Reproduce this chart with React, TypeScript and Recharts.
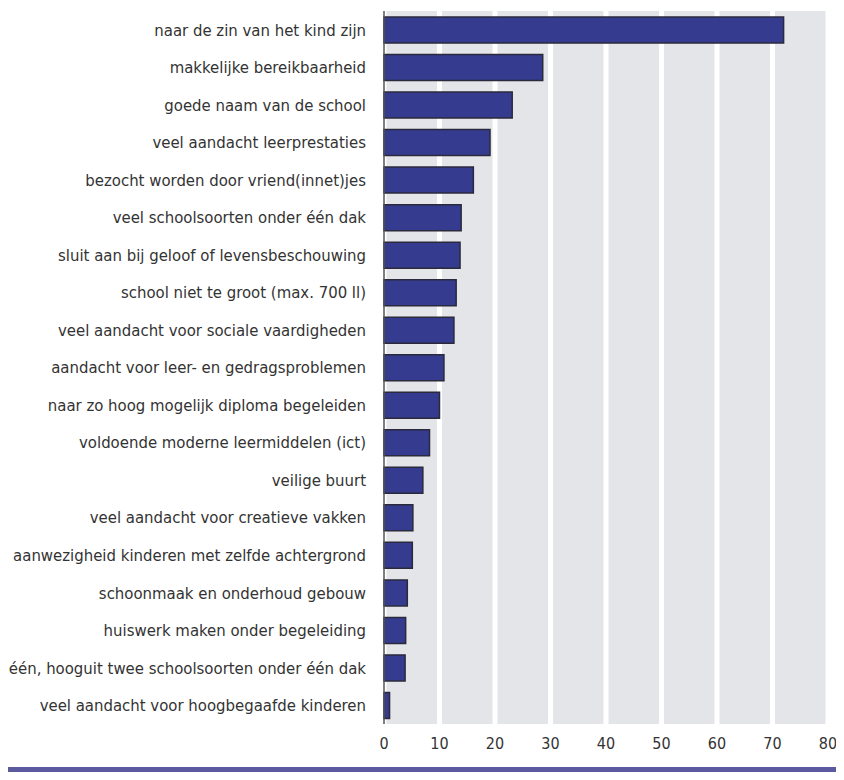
import React from "react";
import { BarChart, Bar, XAxis, YAxis, CartesianGrid } from "recharts";

const categories = [
  "naar de zin van het kind zijn",
  "makkelijke bereikbaarheid",
  "goede naam van de school",
  "veel aandacht leerprestaties",
  "bezocht worden door vriend(innet)jes",
  "veel schoolsoorten onder één dak",
  "sluit aan bij geloof of levensbeschouwing",
  "school niet te groot (max. 700 ll)",
  "veel aandacht voor sociale vaardigheden",
  "aandacht voor leer- en gedragsproblemen",
  "naar zo hoog mogelijk diploma begeleiden",
  "voldoende moderne leermiddelen (ict)",
  "veilige buurt",
  "veel aandacht voor creatieve vakken",
  "aanwezigheid kinderen met zelfde achtergrond",
  "schoonmaak en onderhoud gebouw",
  "huiswerk maken onder begeleiding",
  "één, hooguit twee schoolsoorten onder één dak",
  "veel aandacht voor hoogbegaafde kinderen",
];

const values = [72, 28.6, 23.1, 19.1, 16.1, 13.9, 13.7, 13.0, 12.6, 10.8, 10.0, 8.2, 7.0, 5.2, 5.1, 4.2, 3.9, 3.8, 1.0];

const xTicks = [0, 10, 20, 30, 40, 50, 60, 70, 80];

const data = categories.map((name, i) => ({ name, value: values[i] }));

const font = '"Liberation Sans Narrow", "DejaVu Sans Condensed", "Liberation Sans", sans-serif';

export default function App() {
  return (
    <div style={{ margin: -8, width: 844, height: 780, background: "#fff", fontFamily: font }}>
      <BarChart
        width={844}
        height={767}
        data={data}
        layout="vertical"
        margin={{ top: 11, right: 16, bottom: 13, left: 0 }}
        barSize={26}
      >
        <CartesianGrid
          horizontal={false}
          vertical={true}
          fill="#e4e5e8"
          stroke="#ffffff"
          strokeWidth={5}
        />
        <XAxis
          type="number"
          domain={[0, 80]}
          ticks={xTicks}
          axisLine={false}
          tickLine={false}
          tickMargin={8}
          height={30}
          tick={{ fill: "#333", fontSize: 16, fontFamily: font }}
          interval={0}
        />
        <YAxis
          type="category"
          dataKey="name"
          width={384}
          axisLine={{ stroke: "#555", strokeWidth: 1.5 }}
          tickLine={false}
          tickMargin={12}
          interval={0}
          tick={{ fill: "#333", fontSize: 16.6, fontFamily: font }}
        />
        <Bar
          dataKey="value"
          fill="#353b8f"
          stroke="#2a2a3c"
          strokeWidth={1.5}
          isAnimationActive={false}
        />
      </BarChart>
      <div style={{ width: 840, height: 13, background: "#5c5a9f" }} />
    </div>
  );
}
